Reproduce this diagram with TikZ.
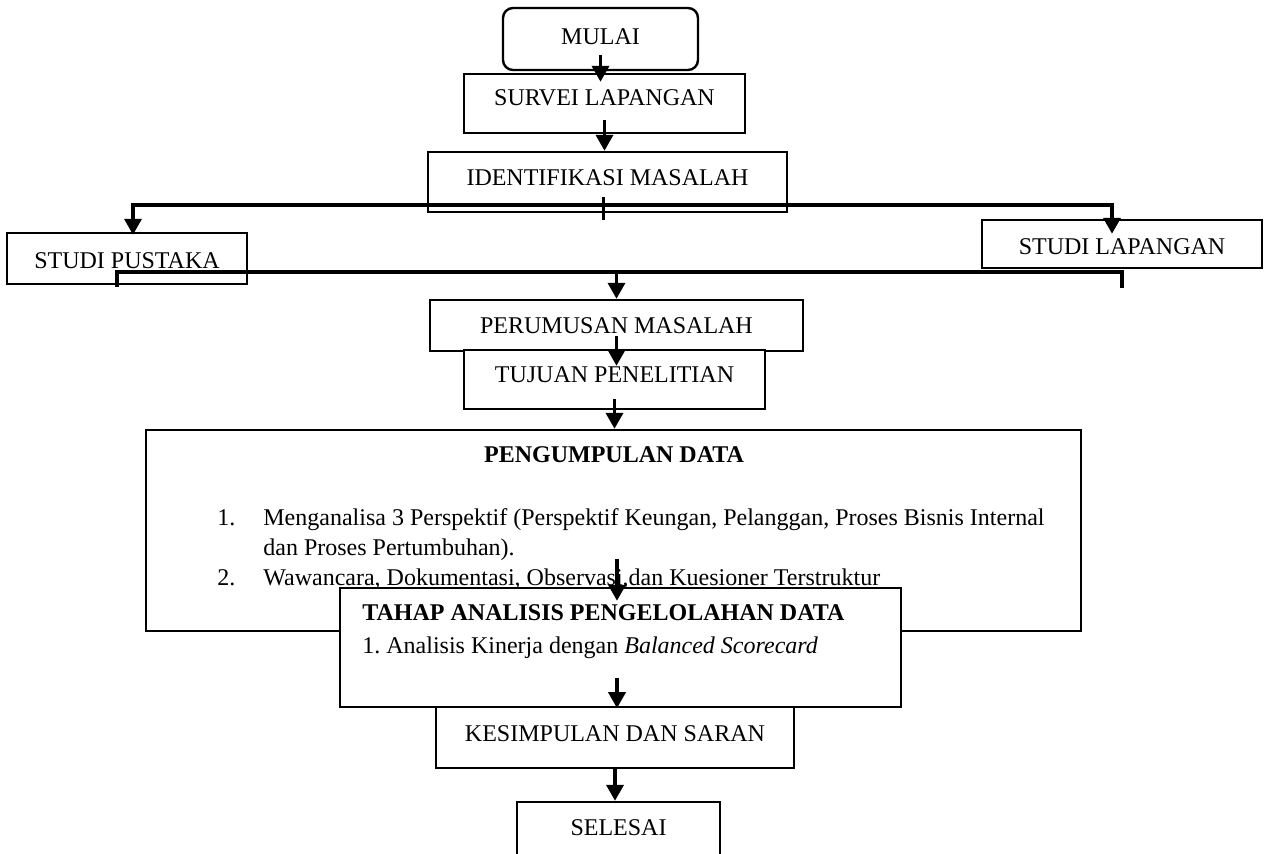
\documentclass[tikz,border=0pt]{standalone}
\usepackage{fontspec}
\setmainfont{Liberation Serif}
\usetikzlibrary{arrows.meta}
\usetikzlibrary{calc}
\tikzstyle{every node}+=[inner sep=0pt]
\tikzstyle{kotak} = [rectangle, draw, line width=1.2pt, fill=white, text centered]
\tikzstyle{bulat} = [kotak, rounded corners=5pt]
\tikzstyle{judul} = [font=\fontsize{12}{15}\selectfont\bfseries]
\tikzstyle{line} = [draw, line width=1.8pt, -{Triangle[width=8.5pt,length=8pt]}]
\tikzstyle{garis} = [draw, line width=1.8pt]
\begin{document}
\begin{tikzpicture}[x=0.5pt, y=-0.5pt, font=\fontsize{12}{15}\selectfont]
  \clip (0,0) rectangle (1267,854);
  % Place nodes
  \node [bulat, minimum width=97.5pt, minimum height=31pt, text depth=2pt] (mulai) at (600.5,39) {MULAI};
  \node [kotak, minimum width=140.5pt, minimum height=29.5pt, text depth=5.5pt] (survei) at (604.5,103.5) {SURVEI LAPANGAN};
  \node [kotak, minimum width=179.5pt, minimum height=30pt, text depth=4pt] (identifikasi) at (607.5,182) {IDENTIFIKASI MASALAH};
  \node [kotak, minimum width=120pt, minimum height=25.5pt, text height=10.4pt] (pustaka) at (127,258.5) {STUDI PUSTAKA};
  \node [kotak, minimum width=140pt, minimum height=24pt, text height=10.9pt] (lapangan) at (1122,244) {STUDI LAPANGAN};
  \node [kotak, minimum width=186.5pt, minimum height=25.5pt] (perumusan) at (616.5,325.5) {PERUMUSAN MASALAH};
  \node [kotak, minimum width=150.5pt, minimum height=29.5pt, text depth=4.5pt] (tujuan) at (614.5,379.5) {TUJUAN PENELITIAN};
  \node [kotak, minimum width=467.5pt, minimum height=100.5pt] (pengumpulan) at (613.5,530.5) {};
  \node [judul] (pengumpulanjudul) at (614,455) {PENGUMPULAN DATA};
  \node [anchor=base west] (pengumpulanisi) at (217,525) {\begin{tabular}[t]{@{}p{23pt}@{}l@{}}
    1. & Menganalisa 3 Perspektif (Perspektif Keungan, Pelanggan, Proses Bisnis Internal\\
       & dan Proses Pertumbuhan).\\
    2. & Wawancara, Dokumentasi, Observasi,dan Kuesioner Terstruktur
  \end{tabular}};
  \node [kotak, minimum width=280.5pt, minimum height=59.5pt] (tahap) at (620.5,647.5) {};
  \node [judul, anchor=west] (tahapjudul) at (362,613) {TAHAP ANALISIS PENGELOLAHAN DATA};
  \node [anchor=base west] (tahapisi) at (362,653) {1.\ Analisis Kinerja dengan \textit{Balanced Scorecard}};
  \node [kotak, minimum width=179pt, minimum height=30.5pt, text depth=3.5pt] (kesimpulan) at (615,737.5) {KESIMPULAN DAN SARAN};
  \node [kotak, minimum width=101.5pt, minimum height=30pt, text depth=4pt] (selesai) at (618.5,832) {SELESAI};
  % Draw edges
  \coordinate (cabang) at ($(identifikasi.south)+(0,-8)$);
  \coordinate (gabung) at ($(lapangan.south)+(0,3)$);
  \path [line] ($(mulai.south)+(0,-16)$) -- ($(mulai.south |- survei.north)+(0,9)$);
  \path [line] ($(survei.south)+(0,-14)$) -- (survei.south |- identifikasi.north);
  \path [garis] ($(identifikasi.south)+(-4,-16)$) -- ($(identifikasi.south)+(-4,7)$);
  \path [line] (cabang) -| ($(pustaka.north)+(6,3)$);
  \path [line] (cabang) -| ($(lapangan.north)+(-10,15)$);
  \path [garis] ($(pustaka.south)+(-10,2)$) |- (gabung) -- ($(lapangan.south)+(0,19)$);
  \path [line] (gabung -| perumusan.north) -- (perumusan.north);
  \path [line] ($(perumusan.south)+(0,-16)$) -- ($(perumusan.south |- tujuan.north)+(0,17)$);
  \path [line] ($(tujuan.south)+(0,-11)$) -- (tujuan.south |- pengumpulan.north);
  \path [line] ($(tahap.north)+(-3.5,-28)$) -- ($(tahap.north)+(-3.5,14)$);
  \path [line] ($(tahap.south)+(-3.5,-30)$) -- ($(tahap.south)+(-3.5,0)$);
  \path [line] (kesimpulan.south) -- (kesimpulan.south |- selesai.north);
\end{tikzpicture}
\end{document}
